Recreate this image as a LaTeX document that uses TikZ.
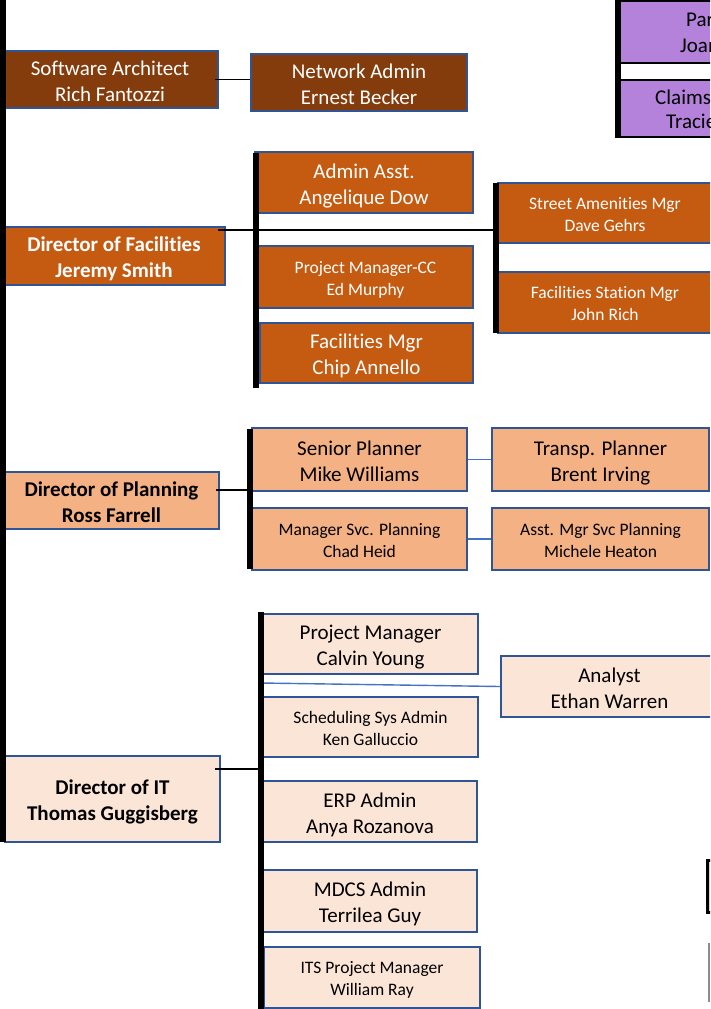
\documentclass[tikz,border=0pt]{standalone}
\usepackage{fontspec}
\setmainfont[Ligatures={NoCommon,NoContextual}]{Carlito}
\definecolor{dkbrown}{HTML}{843C0C}
\definecolor{orng}{HTML}{C55A11}
\definecolor{peach}{HTML}{F4B183}
\definecolor{pale}{HTML}{FBE5D6}
\definecolor{bord}{HTML}{2F5597}
\definecolor{lnblue}{HTML}{4472C4}
\definecolor{purp}{HTML}{B482DB}
\definecolor{sage}{HTML}{D6DCC4}
\newcommand\bx[7]{\node[#2, minimum width={(#5)-(#3)}, minimum height={(#6)-(#4)}] (#1) at ({((#3)+(#5))/2},{((#4)+(#6))/2}) {\rule{0pt}{1.1em}#7\rule[-0.26em]{0pt}{0pt}};}
\tikzset{
  box/.style={draw=bord, line width=2pt, inner sep=0pt, align=center},
  bigf/.style={font=\fontsize{21}{26}\selectfont},
  smallf/.style={font=\fontsize{17.5}{22}\selectfont},
  boldf/.style={font=\fontsize{21}{26}\selectfont\bfseries},
  dkbox/.style={box, fill=dkbrown, text=white},
  orbox/.style={box, fill=orng, text=white},
  pkbox/.style={box, fill=peach, text=black},
  plbox/.style={box, fill=pale, text=black},
  pubox/.style={draw=black, line width=2.5pt, fill=purp, inner sep=0pt},
  spine/.style={line width=6pt, black},
  conn/.style={line width=1.2pt, black},
  bconn/.style={line width=1.4pt, lnblue},
  ptxt/.style={font=\fontsize{21}{26}\selectfont, anchor=base west, inner sep=0pt, text=black}
}
\begin{document}
\begin{tikzpicture}[x=1pt, y=-1pt]
\useasboundingbox (0,0) rectangle (710,1009);
\clip (0,0) rectangle (710,1009);
\fill[white] (0,0) rectangle (710,1009);

% spine coordinates
\coordinate (mTop) at (3,-5);
\coordinate (mBot) at (3,842);
\coordinate (fTop) at (256,153);
\coordinate (fBot) at (256,388);
\coordinate (sTop) at (495.5,183);
\coordinate (sBot) at (495.5,333);
\coordinate (puTop) at (618,-5);
\coordinate (puBot) at (618,138);
\coordinate (pTop) at (250,429);
\coordinate (pBot) at (250,569);
\coordinate (iTop) at (260.5,612);
\coordinate (iBot) at (260.5,1012);
\coordinate (iA) at (260.5,683);

% purple boxes (top right)
\bx{par}{pubox}{620}{1}{740}{63}{}
\bx{claims}{pubox}{620}{80}{740}{137}{}
\node[ptxt] (parT) at (686,26) {Par};
\node[ptxt] (joanT) at (680,52) {Joan};
\node[ptxt] (claimsT) at (655,104) {Claims};
\node[ptxt] (tracieT) at (666,128) {Tracie};

% dark brown
\bx{sa}{dkbox,bigf}{2}{51}{218}{108}{Software Architect\\Rich Fantozzi}
\bx{na}{dkbox,bigf}{251}{54}{467}{111}{Network Admin\\Ernest Becker}

% facilities
\bx{aa}{orbox,bigf}{255}{152}{473}{213}{Admin Asst.\\Angelique Dow}
\bx{df}{orbox,boldf}{3}{227}{225}{285}{Director of Facilities\\Jeremy Smith}
\bx{pmcc}{orbox,smallf}{258}{246}{473}{308}{Project Manager-CC\\Ed Murphy}
\bx{fm}{orbox,bigf}{260}{323}{473}{383}{Facilities Mgr\\Chip Annello}
\bx{sam}{orbox,smallf}{498}{183}{712}{243}{Street Amenities Mgr\\Dave Gehrs}
\bx{fsm}{orbox,smallf}{498}{272}{712}{333}{Facilities Station Mgr\\John Rich}

% planning
\bx{dp}{pkbox,boldf}{4}{472}{219}{529}{Director of Planning\\Ross Farrell}
\bx{sp}{pkbox,bigf}{252}{428}{467}{491}{Senior Planner\\Mike Williams}
\bx{tp}{pkbox,bigf}{492}{428}{709}{491}{Transp. Planner\\Brent Irving}
\bx{msp}{pkbox,smallf}{252}{508}{467}{570}{Manager Svc. Planning\\Chad Heid}
\bx{amsp}{pkbox,smallf}{492}{508}{709}{570}{Asst. Mgr Svc Planning\\Michele Heaton}

% IT
\bx{pmcy}{plbox,bigf}{263}{614}{478}{674}{Project Manager\\Calvin Young}
\bx{an}{plbox,bigf}{501}{656}{718}{717}{Analyst\\Ethan Warren}
\bx{ssa}{plbox,smallf}{263}{697}{478}{757}{Scheduling Sys Admin\\Ken Galluccio}
\bx{dit}{plbox,boldf}{5}{756}{220}{842}{Director of IT\\Thomas Guggisberg}
\bx{erp}{plbox,bigf}{263}{781}{477}{842}{ERP Admin\\Anya Rozanova}
\bx{mdcs}{plbox,bigf}{263}{870}{477}{932}{MDCS Admin\\Terrilea Guy}
\bx{its}{plbox,smallf}{264}{947}{480}{1008}{ITS Project Manager\\William Ray}

% bottom right partial shapes
\bx{grn}{draw=black, line width=3pt, fill=sage}{707}{860}{740}{912}{}
\coordinate (gA) at (709,943);
\coordinate (gB) at (709,1002);
\draw[line width=1.2pt, black!45] (gA) -- (gB);

% connectors
\draw[conn] ([xshift=-4pt]sa.east) -- (sa.east -| na.west);
\draw[conn] ([shift={(-8pt,-4pt)}]df.north east) -- ([yshift=-4pt]df.north east -| sTop);
\draw[conn] ([shift={(-4pt,10.5pt)}]dp.east) -- ([yshift=10.5pt]dp.east -| pTop);
\draw[bconn] (sp.east) -- (tp.west);
\draw[bconn] (msp.east) -- (amsp.west);
\draw[bconn] (iA) -- (an.west);
\draw[conn] ([shift={(-6pt,30pt)}]dit.east) -- ([yshift=30pt]dit.east -| iTop);

% spines
\draw[spine] (mTop) -- (mBot);
\draw[spine] (fTop) -- (fBot);
\draw[spine] (sTop) -- (sBot);
\draw[spine] (puTop) -- (puBot);
\draw[spine] (pTop) -- (pBot);
\draw[spine] (iTop) -- (iBot);
\end{tikzpicture}
\end{document}
